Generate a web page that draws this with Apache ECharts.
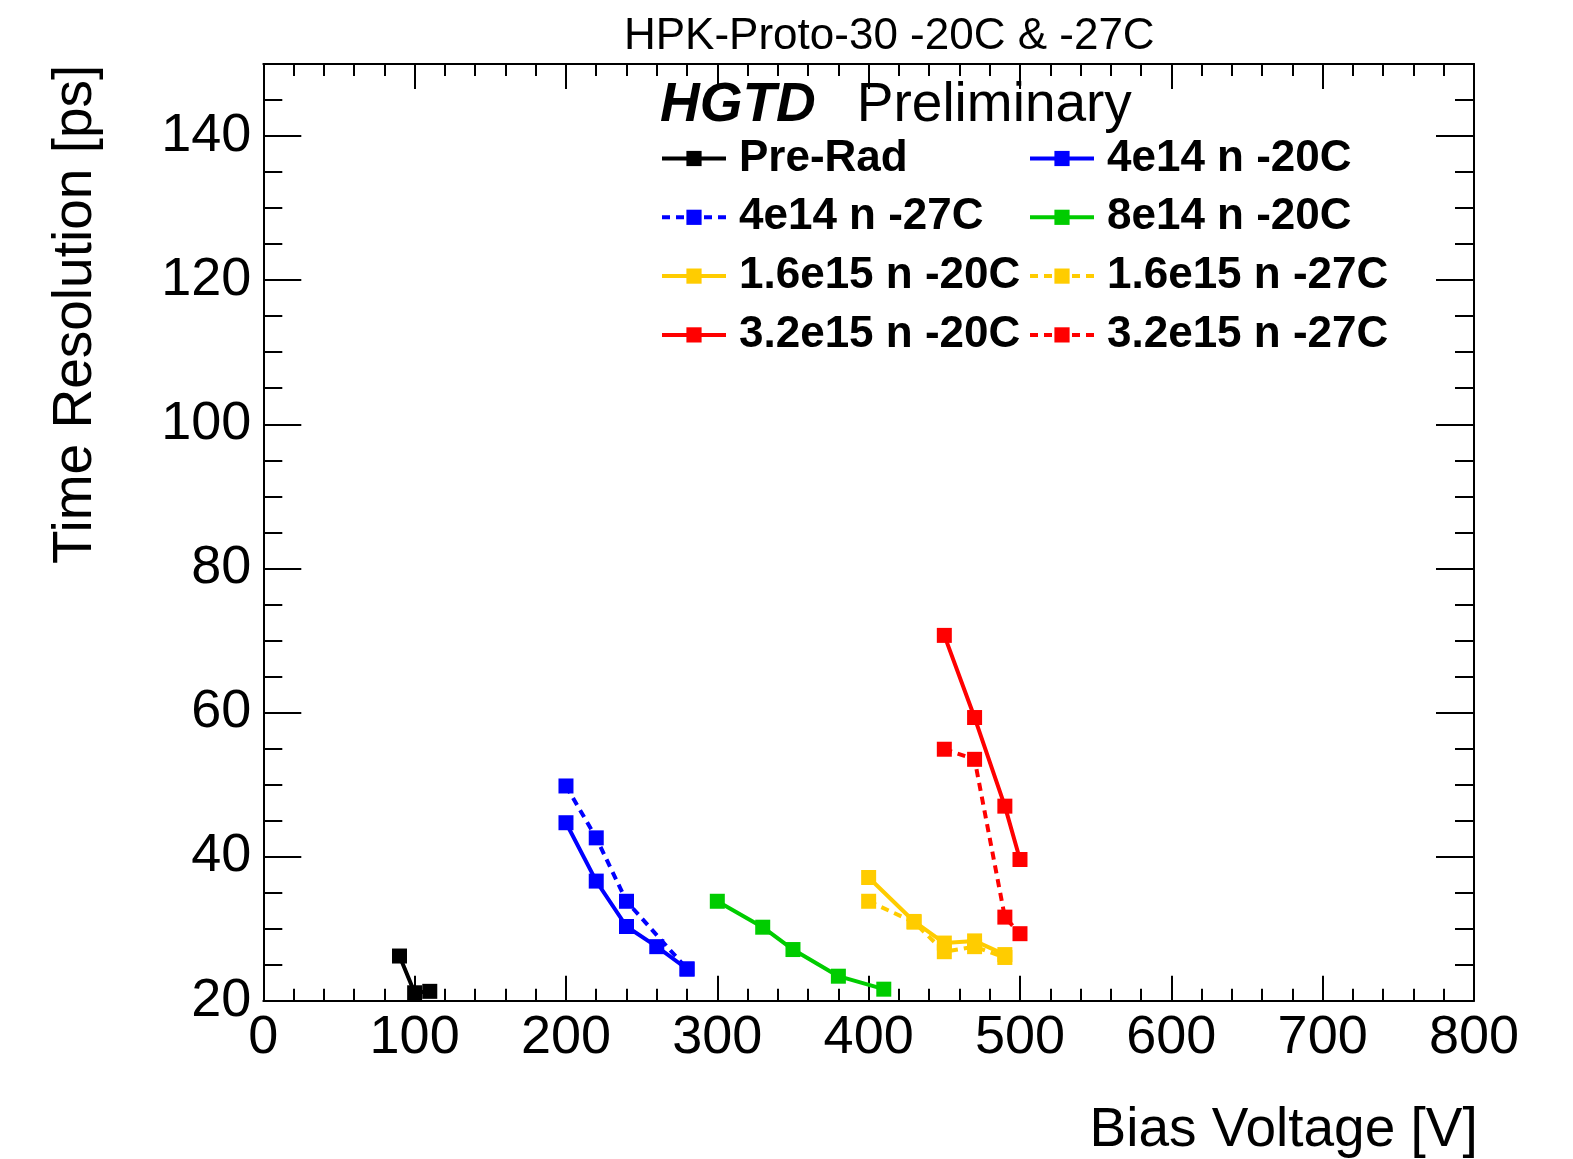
<!DOCTYPE html>
<html><head><meta charset="utf-8">
<script src="https://cdn.jsdelivr.net/npm/echarts@6/dist/echarts.min.js"></script>
<style>html,body{margin:0;padding:0;background:#fff}#c{width:1573px;height:1159px}</style>
</head><body><div id="c"></div>
<script>
// ---- data ----
const xTickInfo = { min: 0, max: 800, step: 100 };
const yTickInfo = { min: 20, max: 150, step: 20 };

const preRadV = [90, 100, 110];
const preRadT = [26.2, 21.1, 21.3];
const n4e14m20V = [200, 220, 240, 260, 280];
const n4e14m20T = [44.7, 36.6, 30.3, 27.5, 24.4];
const n4e14m27V = [200, 220, 240, 280];
const n4e14m27T = [49.8, 42.6, 33.8, 24.4];
const n8e14m20V = [300, 330, 350, 380, 410];
const n8e14m20T = [33.8, 30.2, 27.1, 23.4, 21.6];
const n16e15m20V = [400, 430, 450, 470, 490];
const n16e15m20T = [37.1, 31.0, 28.0, 28.3, 26.4];
const n16e15m27V = [400, 430, 450, 470, 490];
const n16e15m27T = [33.8, 30.9, 26.8, 27.5, 26.0];
const n32e15m20V = [450, 470, 490, 500];
const n32e15m20T = [70.7, 59.3, 47.0, 39.6];
const n32e15m27V = [450, 470, 490, 500];
const n32e15m27T = [54.9, 53.5, 31.6, 29.3];

const legendCol1 = ['Pre-Rad', '4e14 n -27C', '1.6e15 n -20C', '3.2e15 n -20C'];
const legendCol2 = ['4e14 n -20C', '8e14 n -20C', '1.6e15 n -27C', '3.2e15 n -27C'];

const FF = '"Liberation Sans", Arial, Helvetica, sans-serif';
const BLACK = '#000000', BLUE = '#0000ff', GREEN = '#00cc00', YELLOW = '#ffcc00', RED = '#ff0000';

function mk(name, V, T, color, dashed) {
  return {
    type: 'line', name: name,
    data: V.map((v, i) => [v, T[i]]),
    xAxisIndex: 0, yAxisIndex: 0,
    symbol: 'rect', symbolSize: 15,
    lineStyle: { color: color, width: 4, type: dashed ? [8, 6] : 'solid' },
    itemStyle: { color: color },
    emphasis: { disabled: true },
    animation: false
  };
}

const axLine = { show: true, onZero: false, lineStyle: { color: BLACK, width: 2 } };
const tickStyle = { color: BLACK, width: 2 };
const legendText = { fontFamily: FF, fontSize: 44, fontWeight: 'bold', color: BLACK, lineHeight: 44, padding: [0, 0, 0, 8] };

const option = {
  backgroundColor: '#ffffff',
  animation: false,
  title: [
    { text: 'HPK-Proto-30 -20C & -27C', left: 624, top: 15, padding: 0,
      textStyle: { fontFamily: FF, fontSize: 44, fontWeight: 'normal', color: BLACK, lineHeight: 44 } },
    { text: '{a|HGTD}{b|Preliminary}', left: 660, top: 78, padding: 0,
      textStyle: { rich: {
        a: { fontFamily: FF, fontSize: 55, fontWeight: 'bold', fontStyle: 'italic', color: BLACK, lineHeight: 55 },
        b: { fontFamily: FF, fontSize: 55, fontWeight: 'normal', color: BLACK, lineHeight: 55, padding: [0, 0, 0, 41] }
      } } }
  ],
  legend: [
    { left: 660, top: 136.5, orient: 'vertical', itemWidth: 64, itemHeight: 19, itemGap: 14.8, padding: 0,
      selectedMode: false, data: legendCol1, lineStyle: { width: 4 }, textStyle: legendText },
    { left: 1028, top: 136.5, orient: 'vertical', itemWidth: 64, itemHeight: 19, itemGap: 14.8, padding: 0,
      selectedMode: false, data: legendCol2, lineStyle: { width: 4 }, textStyle: legendText }
  ],
  grid: { left: 263.3, right: 99, top: 64, bottom: 158.3, containLabel: false, outerBoundsMode: 'none' },
  xAxis: [
    { type: 'value', position: 'bottom', min: xTickInfo.min, max: xTickInfo.max, interval: xTickInfo.step,
      axisLine: axLine,
      axisTick: { show: true, inside: true, length: 25, lineStyle: tickStyle },
      minorTick: { show: true, splitNumber: 5, length: 12, lineStyle: tickStyle },
      splitLine: { show: false }, minorSplitLine: { show: false },
      axisLabel: { margin: 10, fontFamily: FF, fontSize: 54, color: BLACK, lineHeight: 54 },
      name: 'Bias Voltage [V]', nameLocation: 'middle', nameGap: 103,
      nameTextStyle: { fontFamily: FF, fontSize: 55, color: BLACK, lineHeight: 55, padding: [0, 0, 0, 830] } },
    { type: 'value', position: 'top', min: xTickInfo.min, max: xTickInfo.max, interval: xTickInfo.step,
      axisLine: axLine,
      axisTick: { show: true, inside: true, length: 25, lineStyle: tickStyle },
      minorTick: { show: true, splitNumber: 5, length: 12, lineStyle: tickStyle },
      splitLine: { show: false }, axisLabel: { show: false } }
  ],
  yAxis: [
    { type: 'value', position: 'left', min: yTickInfo.min, max: yTickInfo.max, interval: yTickInfo.step,
      axisLine: axLine,
      axisTick: { show: true, inside: true, length: 38, lineStyle: tickStyle },
      splitLine: { show: false },
      axisLabel: { margin: 12, fontFamily: FF, fontSize: 54, color: BLACK, lineHeight: 54, padding: [14, 0, 0, 0], showMaxLabel: false },
      name: 'Time Resolution [ps]', nameLocation: 'middle', nameRotate: 90, nameGap: 160,
      nameTextStyle: { fontFamily: FF, fontSize: 55, color: BLACK, lineHeight: 55, padding: [0, 0, 0, 436] } },
    { type: 'value', position: 'left', min: yTickInfo.min, max: yTickInfo.max, interval: 5,
      axisLine: { show: false, onZero: false },
      axisTick: { show: true, inside: true, length: 19, lineStyle: tickStyle },
      splitLine: { show: false }, axisLabel: { show: false } },
    { type: 'value', position: 'right', min: yTickInfo.min, max: yTickInfo.max, interval: yTickInfo.step,
      axisLine: axLine,
      axisTick: { show: true, inside: true, length: 38, lineStyle: tickStyle },
      splitLine: { show: false }, axisLabel: { show: false } },
    { type: 'value', position: 'right', min: yTickInfo.min, max: yTickInfo.max, interval: 5,
      axisLine: { show: false, onZero: false },
      axisTick: { show: true, inside: true, length: 19, lineStyle: tickStyle },
      splitLine: { show: false }, axisLabel: { show: false } }
  ],
  series: [
    mk('Pre-Rad', preRadV, preRadT, BLACK, false),
    mk('4e14 n -20C', n4e14m20V, n4e14m20T, BLUE, false),
    mk('4e14 n -27C', n4e14m27V, n4e14m27T, BLUE, true),
    mk('8e14 n -20C', n8e14m20V, n8e14m20T, GREEN, false),
    mk('1.6e15 n -20C', n16e15m20V, n16e15m20T, YELLOW, false),
    mk('1.6e15 n -27C', n16e15m27V, n16e15m27T, YELLOW, true),
    mk('3.2e15 n -20C', n32e15m20V, n32e15m20T, RED, false),
    mk('3.2e15 n -27C', n32e15m27V, n32e15m27T, RED, true)
  ]
};

const chart = echarts.init(document.getElementById('c'), null, { renderer: 'canvas' });
chart.setOption(option);
</script>
</body></html>
